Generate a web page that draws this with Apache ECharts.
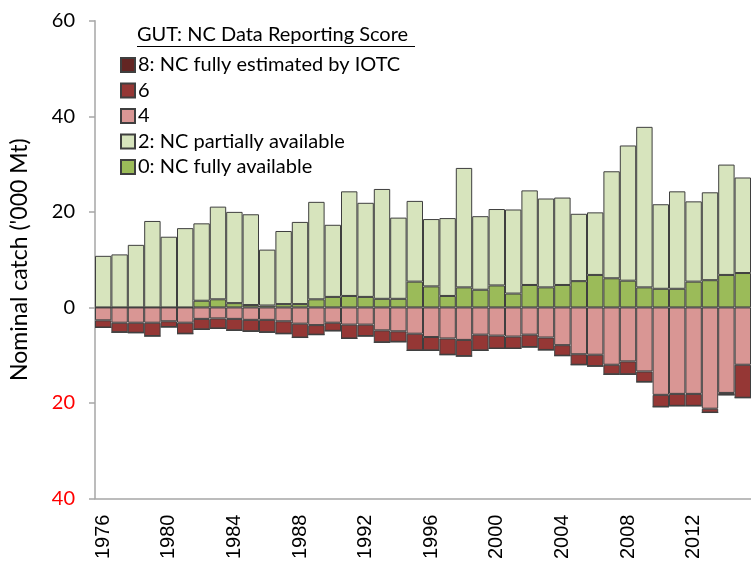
<!DOCTYPE html>
<html><head><meta charset="utf-8">
<script src="https://cdn.jsdelivr.net/npm/echarts@6/dist/echarts.min.js"></script>
<style>html,body{margin:0;padding:0;background:#fff}#c{width:751px;height:562px}</style>
</head><body><div id="c"></div>
<script>
const years = [];
for (let y = 1976; y <= 2015; y++) years.push(String(y));
const score0 = [0,0,0,0,0,0,1.4,1.7,0.9,0.5,0.4,0.7,0.7,1.7,2.2,2.4,2.2,1.8,1.8,5.4,4.4,2.4,4.2,3.7,4.6,2.9,4.7,4.2,4.7,5.5,6.8,6.1,5.6,4.2,3.9,3.9,5.4,5.7,6.8,7.2];
const score2 = [10.8,11.1,13.1,18.1,14.8,16.6,16.2,19.4,19.1,19.0,11.7,15.3,17.2,20.4,15.1,21.9,19.7,23.0,17.0,16.9,14.1,16.3,25.0,15.4,16.0,17.6,19.8,18.6,18.3,14.1,13.1,22.4,28.3,33.6,17.7,20.4,16.8,18.4,23.1,20.0];
const score4 = [-2.7,-3.2,-3.2,-3.2,-2.9,-3.2,-2.4,-2.3,-2.4,-2.6,-2.6,-2.9,-3.4,-3.7,-3.2,-3.6,-3.6,-4.8,-5.0,-5.5,-6.2,-6.5,-6.8,-5.7,-5.9,-6.1,-5.7,-6.3,-7.9,-9.8,-9.9,-12.0,-11.3,-13.4,-18.3,-18.1,-18.1,-21.2,-17.9,-12.0];
const score6 = [-1.5,-2.0,-2.1,-2.8,-1.2,-2.3,-2.2,-2.1,-2.4,-2.4,-2.6,-2.6,-2.9,-2.0,-1.7,-2.9,-2.4,-2.5,-2.2,-3.5,-2.8,-3.4,-3.4,-3.3,-2.7,-2.5,-2.6,-2.6,-2.2,-2.2,-2.4,-2.0,-2.7,-2.2,-2.5,-2.5,-2.5,-0.8,-0.4,-6.9];
const score8 = [0,0,0,0,0,0,0,0,0,0,0,0,0,0,0,0,0,0,0,0,0,0,0,0,0,0,0,0,0,0,0,0,0,0,0,0,0,0,0,0];
const yTicks = [-40,-20,0,20,40,60];
const names = ['8: NC fully estimated by IOTC','6','4','2: NC partially available','0: NC fully available'];

const chart = echarts.init(document.getElementById('c'));
const border = {borderColor:'#3f3f3f', borderWidth:1};
function bar(name, data, color){
  return {name, type:'bar', stack:'total', data, barCategoryGap:'0%',
    itemStyle:Object.assign({color}, border), emphasis:{disabled:true}};
}
const font = 'Lato, "Open Sans", sans-serif';
chart.setOption({
  animation:false,
  grid:{left:90, top:20.8, height:485.7, width:672},
  legend:{orient:'vertical', left:115, top:50, itemWidth:14, itemHeight:14, itemGap:5.5,
    icon:'rect', data:names, selectedMode:false,
    textStyle:{fontFamily:font, fontSize:20, color:'#000', padding:[0,0,0,-2]}},
  graphic:[
    {type:'text', left:137, top:25, style:{text:'GUT: NC Data Reporting Score', fontFamily:font, fontSize:20, fill:'#000'}},
    {type:'line', shape:{x1:137,y1:46.5,x2:415,y2:46.5}, style:{stroke:'#000', lineWidth:1}}
  ],
  xAxis:[
    {type:'category', data:years, position:'bottom',
     axisLine:{onZero:false, lineStyle:{color:'#a6a6a6', width:1.5}},
     axisTick:{show:false},
     axisLabel:{rotate:90, interval:3, fontFamily:'"Liberation Sans", Arial, sans-serif', fontSize:20, color:'#000', margin:16}},
    {type:'category', data:years, position:'bottom',
     axisLine:{onZero:true, lineStyle:{color:'#a6a6a6', width:1.5}},
     axisTick:{show:false}, axisLabel:{show:false}}
  ],
  yAxis:{type:'value', min:yTicks[0], max:yTicks[yTicks.length-1], interval:20,
    name:"Nominal catch ('000 Mt)", nameLocation:'middle', nameGap:64, nameRotate:90,
    nameTextStyle:{fontFamily:font, fontSize:23, color:'#000'},
    axisLine:{show:true, lineStyle:{color:'#a6a6a6', width:1.5}},
    axisTick:{show:true, length:6, lineStyle:{color:'#a6a6a6', width:1.5}},
    splitLine:{show:false},
    axisLabel:{fontFamily:font, fontSize:20, margin:20,
      formatter:v => v < 0 ? '{r|' + Math.abs(v) + '}' : '{b|' + v + '}',
      rich:{r:{color:'#ff0000', fontFamily:font, fontSize:20}, b:{color:'#000', fontFamily:font, fontSize:20}}}
  },
  series:[
    bar(names[4], score0, '#9bbb59'),
    bar(names[3], score2, '#d7e4bd'),
    bar(names[2], score4, '#d99694'),
    bar(names[1], score6, '#953735'),
    bar(names[0], score8, '#632523')
  ]
});
</script></body></html>
